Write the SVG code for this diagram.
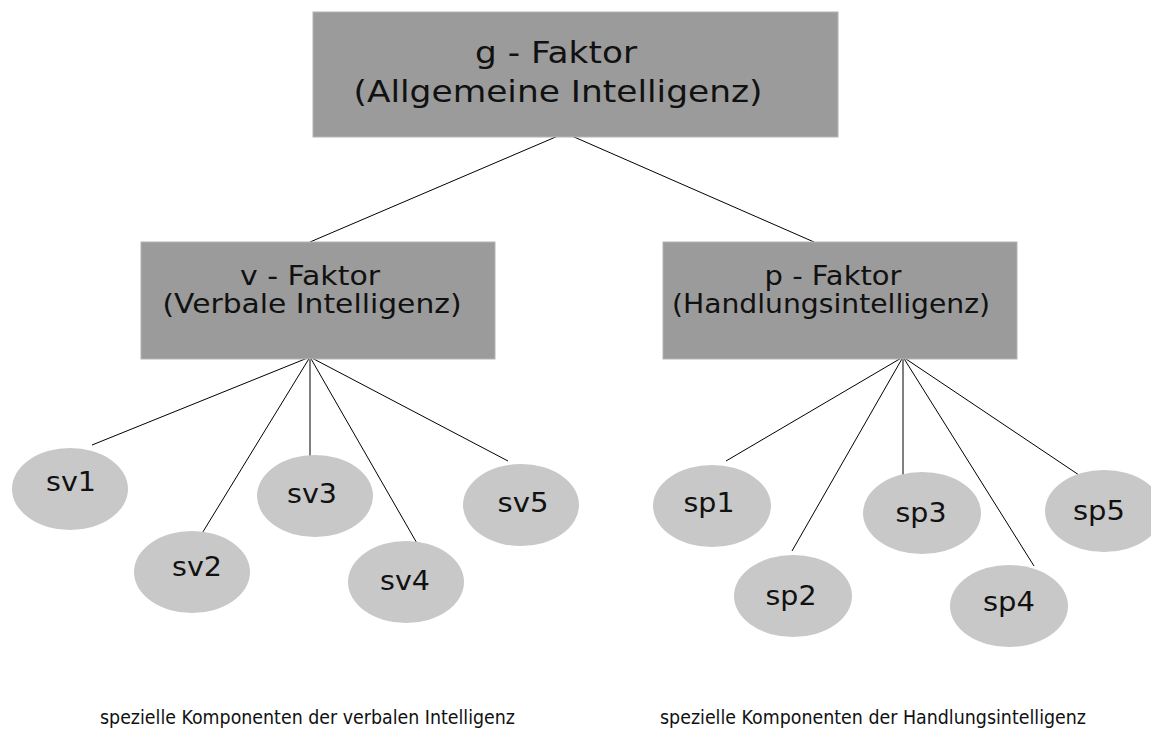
<svg xmlns="http://www.w3.org/2000/svg" width="1151" height="729" viewBox="0 0 1151 729">
<style>
.box{fill:#9b9b9b;stroke:#b4b4b4;stroke-width:1}
.ell{fill:#c8c8c8}
.t{font-family:"DejaVu Sans",Verdana,sans-serif;fill:#111;text-anchor:middle}
.big{font-size:31px}
.mid{font-size:27px}
.cap{font-family:"DejaVu Sans Condensed","DejaVu Sans",sans-serif;font-size:20px;fill:#111}
.ln{stroke:#000;stroke-width:1;fill:none}
</style>
<rect width="1151" height="729" fill="#fff"/>
<g id="connectors">
<line class="ln" x1="565" y1="133" x2="310" y2="242"/>
<line class="ln" x1="565" y1="133" x2="814" y2="242"/>
<line class="ln" x1="310" y1="357" x2="92" y2="445"/>
<line class="ln" x1="310" y1="357" x2="201" y2="535"/>
<line class="ln" x1="310" y1="357" x2="310" y2="462"/>
<line class="ln" x1="310" y1="357" x2="422" y2="552"/>
<line class="ln" x1="310" y1="357" x2="508" y2="461"/>
<line class="ln" x1="903" y1="357" x2="726" y2="461"/>
<line class="ln" x1="903" y1="357" x2="792" y2="551"/>
<line class="ln" x1="903" y1="357" x2="903" y2="475"/>
<line class="ln" x1="903" y1="357" x2="1034" y2="566"/>
<line class="ln" x1="903" y1="357" x2="1079" y2="475"/>
</g>
<g id="g-faktor">
<rect class="box" x="313" y="12" width="525" height="125"/>
<text class="t big" x="556" y="63" textLength="162" lengthAdjust="spacingAndGlyphs">g - Faktor</text>
<text class="t big" x="558" y="102" textLength="409" lengthAdjust="spacingAndGlyphs">(Allgemeine Intelligenz)</text>
</g>
<g id="v-faktor">
<rect class="box" x="141" y="242" width="354" height="117"/>
<text class="t mid" x="310" y="285" textLength="140" lengthAdjust="spacingAndGlyphs">v - Faktor</text>
<text class="t mid" x="312" y="313" textLength="299" lengthAdjust="spacingAndGlyphs">(Verbale Intelligenz)</text>
</g>
<g id="p-faktor">
<rect class="box" x="663" y="242" width="354" height="117"/>
<text class="t mid" x="833" y="285" textLength="137" lengthAdjust="spacingAndGlyphs">p - Faktor</text>
<text class="t mid" x="831" y="313" textLength="318" lengthAdjust="spacingAndGlyphs">(Handlungsintelligenz)</text>
</g>
<g id="sv1"><ellipse class="ell" cx="70" cy="489" rx="58" ry="41"/><text class="t mid" x="71" y="491" textLength="50" lengthAdjust="spacingAndGlyphs">sv1</text></g>
<g id="sv2"><ellipse class="ell" cx="192" cy="572" rx="58" ry="41"/><text class="t mid" x="197" y="576" textLength="50" lengthAdjust="spacingAndGlyphs">sv2</text></g>
<g id="sv3"><ellipse class="ell" cx="315" cy="496" rx="58" ry="41"/><text class="t mid" x="312" y="503" textLength="50" lengthAdjust="spacingAndGlyphs">sv3</text></g>
<g id="sv4"><ellipse class="ell" cx="406" cy="582" rx="58" ry="41"/><text class="t mid" x="405" y="590" textLength="50" lengthAdjust="spacingAndGlyphs">sv4</text></g>
<g id="sv5"><ellipse class="ell" cx="521" cy="505" rx="58" ry="41"/><text class="t mid" x="523" y="512" textLength="51" lengthAdjust="spacingAndGlyphs">sv5</text></g>
<g id="sp1"><ellipse class="ell" cx="712" cy="506" rx="59" ry="41"/><text class="t mid" x="709" y="512" textLength="51" lengthAdjust="spacingAndGlyphs">sp1</text></g>
<g id="sp2"><ellipse class="ell" cx="793" cy="596" rx="59" ry="41"/><text class="t mid" x="791" y="605" textLength="51" lengthAdjust="spacingAndGlyphs">sp2</text></g>
<g id="sp3"><ellipse class="ell" cx="922" cy="513" rx="59" ry="41"/><text class="t mid" x="921" y="522" textLength="51" lengthAdjust="spacingAndGlyphs">sp3</text></g>
<g id="sp4"><ellipse class="ell" cx="1009" cy="606" rx="59" ry="41"/><text class="t mid" x="1009" y="611" textLength="52" lengthAdjust="spacingAndGlyphs">sp4</text></g>
<g id="sp5"><ellipse class="ell" cx="1104" cy="511" rx="59" ry="41"/><text class="t mid" x="1099" y="520" textLength="52" lengthAdjust="spacingAndGlyphs">sp5</text></g>
<text class="cap" x="100" y="724" textLength="415" lengthAdjust="spacingAndGlyphs">spezielle Komponenten der verbalen Intelligenz</text>
<text class="cap" x="660" y="724" textLength="426" lengthAdjust="spacingAndGlyphs">spezielle Komponenten der Handlungsintelligenz</text>
</svg>
